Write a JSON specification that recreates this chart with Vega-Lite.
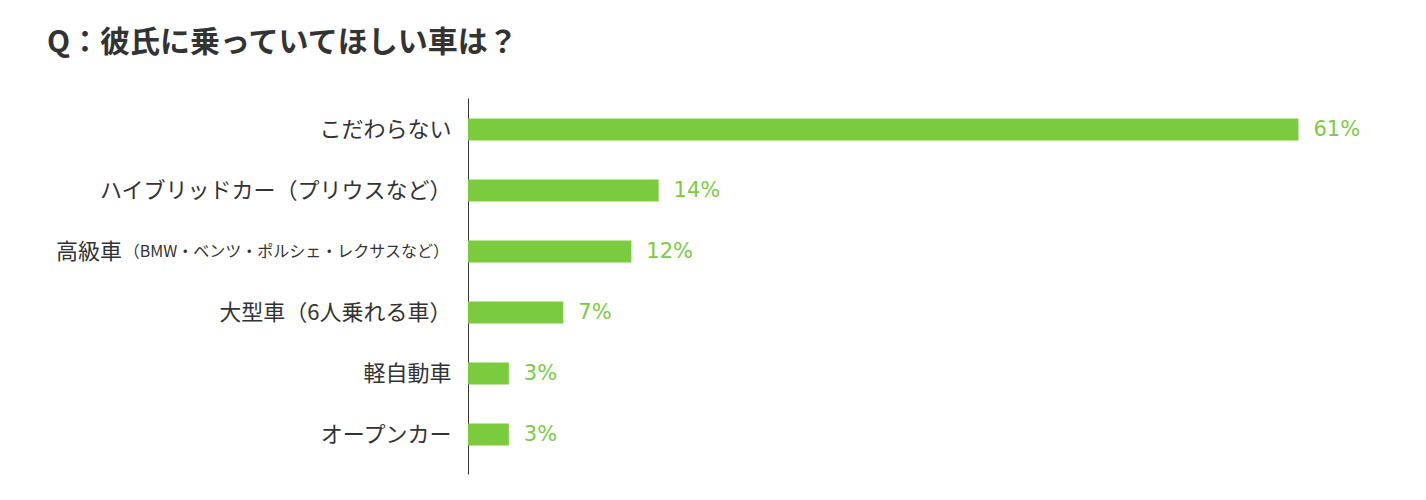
{
  "$schema": "https://vega.github.io/schema/vega-lite/v6.json",
  "autosize": "none",
  "width": 953,
  "height": 376,
  "padding": {"left": 468, "top": 98, "right": 5, "bottom": 26},
  "background": "white",
  "config": {"view": {"stroke": null}, "font": "Noto Sans CJK JP"},
  "title": {
    "text": "Q：彼氏に乗っていてほしい車は？",
    "anchor": "start",
    "frame": "group",
    "dx": -421,
    "dy": 30,
    "offset": 40,
    "baseline": "bottom",
    "font": "Noto Sans CJK JP",
    "fontSize": 30,
    "fontWeight": "bold",
    "color": "#333333"
  },
  "data": {
    "values": [
      {"cat": "こだわらない", "value": 61},
      {"cat": "ハイブリッドカー（プリウスなど）", "value": 14},
      {"cat": "高級車", "value": 12},
      {"cat": "大型車（6人乗れる車）", "value": 7},
      {"cat": "軽自動車", "value": 3},
      {"cat": "オープンカー", "value": 3}
    ]
  },
  "transform": [{"calculate": "datum.value + '%'", "as": "label"}],
  "encoding": {
    "y": {
      "field": "cat",
      "type": "nominal",
      "sort": null,
      "scale": {"paddingInner": 0.639, "paddingOuter": 0.4015, "align": 0.42},
      "axis": {
        "title": null,
        "domain": true,
        "domainColor": "#333333",
        "domainWidth": 1,
        "ticks": false,
        "grid": false,
        "labelFont": "Noto Sans CJK JP",
        "labelFontSize": 22,
        "labelColor": "#333333",
        "labelPadding": 17,
        "labelLimit": 500,
        "labelExpr": "datum.value == '高級車' ? '' : datum.value"
      }
    }
  },
  "layer": [
    {
      "mark": {"type": "bar", "color": "#7ACC3E"},
      "encoding": {
        "x": {"field": "value", "type": "quantitative", "scale": {"domain": [0, 70]}, "axis": null}
      }
    },
    {
      "mark": {"type": "text", "align": "left", "baseline": "middle", "dx": 15, "font": "DejaVu Sans", "fontSize": 21, "color": "#7ACC3E"},
      "encoding": {
        "x": {"field": "value", "type": "quantitative"},
        "text": {"field": "label"}
      }
    },
    {
      "transform": [{"filter": "datum.cat == '高級車'"}],
      "mark": {"type": "text", "align": "right", "baseline": "middle", "dx": -19, "font": "Noto Sans CJK JP", "fontSize": 16, "color": "#333333"},
      "encoding": {
        "x": {"datum": 0, "type": "quantitative"},
        "text": {"value": "（BMW・ベンツ・ポルシェ・レクサスなど）"}
      }
    },
    {
      "transform": [{"filter": "datum.cat == '高級車'"}],
      "mark": {"type": "text", "align": "right", "baseline": "middle", "dx": -346, "font": "Noto Sans CJK JP", "fontSize": 22, "color": "#333333"},
      "encoding": {
        "x": {"datum": 0, "type": "quantitative"},
        "text": {"value": "高級車"}
      }
    }
  ]
}
